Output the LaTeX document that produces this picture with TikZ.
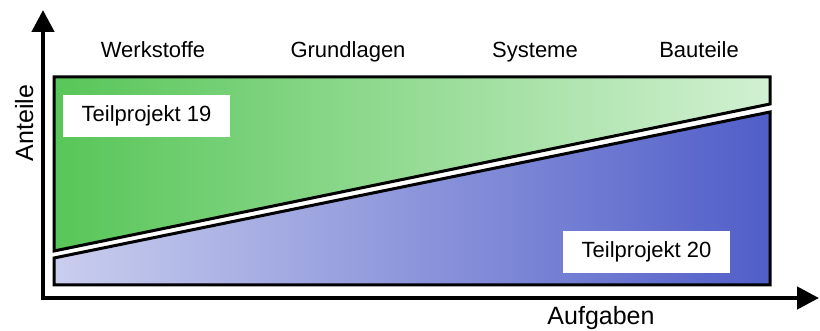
\documentclass[tikz,border=0pt]{standalone}
\usepackage{fontspec}
\setmainfont{Liberation Sans}
\usetikzlibrary{arrows.meta}
\definecolor{gA}{RGB}{88,198,88}
\definecolor{gB}{RGB}{210,240,210}
\definecolor{bA}{RGB}{202,206,238}
\definecolor{bB}{RGB}{80,94,200}
\tikzset{
  band/.style={draw=black, line width=3pt, line join=miter},
  lbl/.style={fill=white, minimum width=167pt, minimum height=42pt, inner sep=0pt, font=\fontsize{22}{24}\selectfont},
  head/.style={font=\fontsize{22}{24}\selectfont, anchor=base},
  axlbl/.style={font=\fontsize{25}{27}\selectfont, anchor=base},
  axis/.style={line width=4.5pt, {Triangle[length=22pt,width=22pt]}-{Triangle[length=22pt,width=22pt]}}
}
\begin{document}
\begin{tikzpicture}[x=1pt,y=-1pt]
\useasboundingbox (0,0) rectangle (820,331);
% bands
\path[band, left color=gA, right color=gB] (54,77) -- (770,77) -- (770,104) -- (54,251) -- cycle;
\path[band, left color=bA, right color=bB] (54,258) -- (770,112) -- (770,285) -- (54,285) -- cycle;
% axes
\coordinate (ytip) at (43,10);
\coordinate (orig) at (43,298);
\coordinate (xtip) at (819,298);
\draw[axis] (ytip) -- (orig) -- (xtip);
% headings
\node[head] (h1) at (153,58) {Werkstoffe};
\node[head] (h2) at (348,58) {Grundlagen};
\node[head] (h3) at (535,58) {Systeme};
\node[head] (h4) at (699,58) {Bauteile};
% labels
\node[lbl] (tp19) at (146.5,116) {Teilprojekt 19};
\node[lbl] (tp20) at (646.5,252) {Teilprojekt 20};
% axis labels
\node[axlbl] (xl) at (601,325) {Aufgaben};
\node[axlbl, rotate=90] (yl) at (33,123) {Anteile};
\end{tikzpicture}
\end{document}
